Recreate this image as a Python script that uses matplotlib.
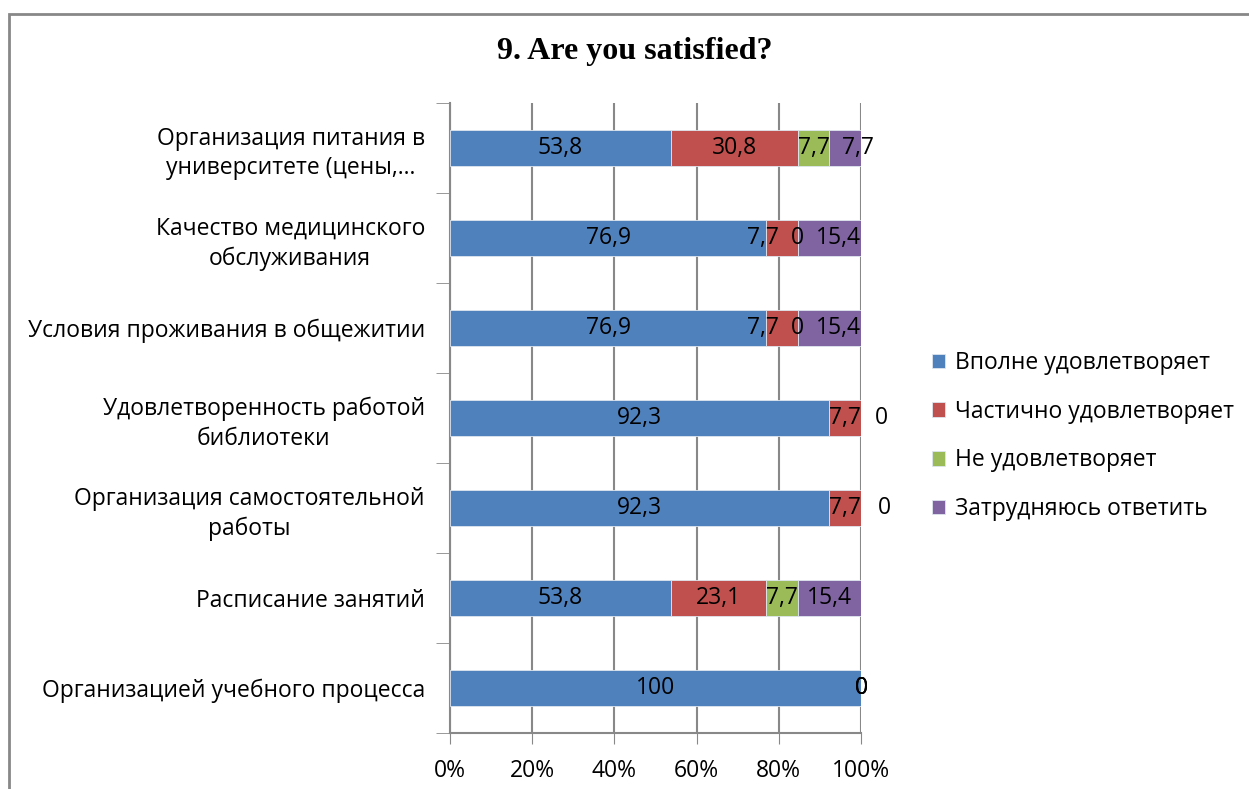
import matplotlib
matplotlib.use("Agg")
import matplotlib.pyplot as plt
from matplotlib.patches import Rectangle
import numpy as np

categories = [
    "Организацией учебного процесса",
    "Расписание занятий",
    "Организация самостоятельной\nработы",
    "Удовлетворенность работой\nбиблиотеки",
    "Условия проживания в общежитии",
    "Качество медицинского\nобслуживания",
    "Организация питания в\nуниверситете (цены,…",
]
series_names = ["Вполне удовлетворяет", "Частично удовлетворяет",
                "Не удовлетворяет", "Затрудняюсь ответить"]
vpolne = [100, 53.8, 92.3, 92.3, 76.9, 76.9, 53.8]
chastichno = [0, 23.1, 7.7, 7.7, 7.7, 7.7, 30.8]
ne_udovl = [0, 7.7, 0, 0, 0, 0, 7.7]
zatrud = [0, 15.4, 0, 0, 15.4, 15.4, 7.7]

colors = ["#4F81BD", "#C0504D", "#9BBB59", "#8064A2"]
# label nudges in pixels (series index, row index) -> dx, as the source chart placed them
nudges = {(1, 4): -19, (1, 5): -19, (3, 4): 9, (3, 5): 9, (3, 6): 13}
# zero labels displayed outside the bar end (row -> dx pixels), others hidden
outside_zero = {2: 23, 3: 20}

plt.rcParams['font.family'] = ['Open Sans', 'DejaVu Sans']

W, H = 1249, 789
fig = plt.figure(figsize=(W / 100, H / 100), dpi=100)

# outer chart border
fig.patches.append(Rectangle((9 / W, -0.05), 1.2, (1 - 14 / H) + 0.05,
                             transform=fig.transFigure, fill=False,
                             edgecolor="#888888", linewidth=2))

ax = fig.add_axes([450 / W, 1 - 733 / H, (861 - 450) / W, (733 - 103) / H])

data = np.array([vpolne, chastichno, ne_udovl, zatrud], dtype=float)
totals = data.sum(axis=0)
pct = data / totals * 100
y = np.arange(len(categories))
left = np.zeros(len(categories))
fs = 16.5

for si in range(4):
    ax.barh(y, pct[si], left=left, height=0.39, color=colors[si],
            edgecolor="#dfe6f0", linewidth=0.6, label=series_names[si], zorder=3)
    for i in range(len(categories)):
        v = data[si][i]
        txt = ("%g" % v).replace(".", ",")
        cx = left[i] + pct[si][i] / 2
        if v == 0 and i in outside_zero:
            if si == 3:
                ax.annotate(txt, (100, y[i]), xytext=(outside_zero[i] * 0.72, 0),
                            textcoords="offset points", ha="center", va="center",
                            fontsize=fs, zorder=5, annotation_clip=False)
            continue
        dx = nudges.get((si, i), 0) * 0.72
        ax.annotate(txt, (cx, y[i]), xytext=(dx, 0), textcoords="offset points",
                    ha="center", va="center", fontsize=fs, zorder=5,
                    annotation_clip=False)
    left += pct[si]

ax.set_xlim(0, 100)
ax.set_ylim(-0.5, len(categories) - 0.5)
ax.set_xticks(np.arange(0, 101, 20))
ax.set_xticklabels(["%d%%" % v for v in range(0, 101, 20)], fontsize=fs)
ax.set_yticks(y)
ax.set_yticklabels(categories, fontsize=fs, multialignment="center", linespacing=1.3)
# category boundary ticks
ax.set_yticks(np.arange(-0.5, len(categories), 1), minor=True)
ax.tick_params(axis="y", which="minor", length=10, color="#888888", direction="out")
ax.tick_params(axis="y", which="major", length=0, pad=18)
ax.tick_params(axis="x", length=8, color="#888888", pad=11)
ax.grid(axis="x", color="#888888", linewidth=1.5, zorder=0)
for s in ["top", "right"]:
    ax.spines[s].set_visible(False)
for s in ["left", "bottom"]:
    ax.spines[s].set_color("#888888")
    ax.spines[s].set_linewidth(1.5)

fig.text(635 / W, 1 - 52 / H, "9. Are you satisfied?", ha="center", va="center",
         fontsize=23, fontweight="bold", family="Liberation Serif")

handles, labels = ax.get_legend_handles_labels()
leg = fig.legend(handles, labels, loc="center left", bbox_to_anchor=(911 / W, 1 - 436 / H),
                 frameon=False, fontsize=fs, handlelength=0.6, handleheight=0.6,
                 handletextpad=0.4, labelspacing=1.08)

fig.savefig("out.png", dpi=100)
